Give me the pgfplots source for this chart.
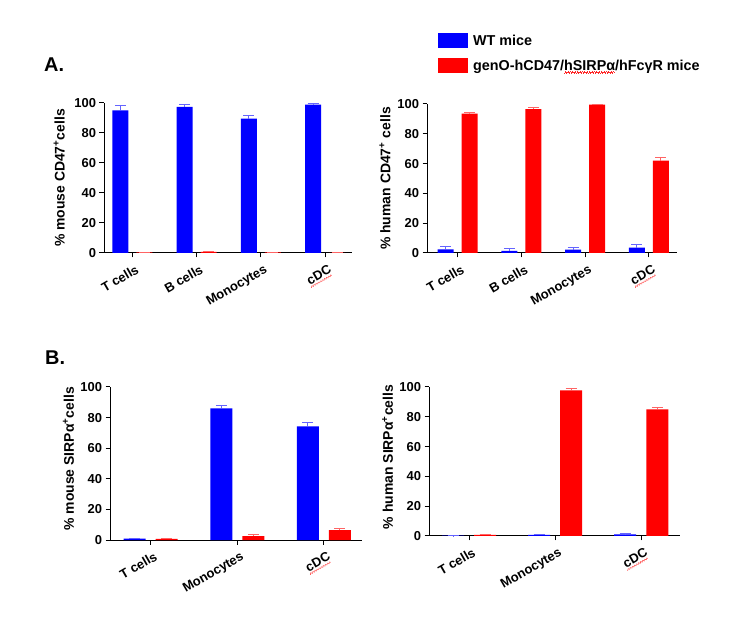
\documentclass[border=0pt]{standalone}
\usepackage{fontspec}
\setmainfont{Liberation Sans}
\usepackage{pgfplots}
\pgfplotsset{compat=1.18}
\definecolor{wtblue}{RGB}{0,0,255}
\definecolor{hred}{RGB}{255,0,0}
\definecolor{wterr}{RGB}{100,100,255}
\definecolor{herr}{RGB}{255,100,100}
\newcommand\squig[1]{\leavevmode\setbox0\hbox{#1}\rlap{\color{red!85}\hbox to \wd0{\leaders\hbox{\rule[-3.2pt]{0.6pt}{0.6pt}\rule[-2.6pt]{0.6pt}{0.6pt}\rule[-2.0pt]{0.6pt}{0.6pt}\rule[-2.6pt]{0.6pt}{0.6pt}}\hfill}}\box0}
\pgfplotsset{
 prism/.style={
  scale only axis,
  axis x line*=bottom, axis y line*=left,
  ymin=0, ymax=100, ytick={0,20,...,100},
  tick align=outside, major tick length=4.5bp,
  every tick/.style={black, line width=1bp},
  axis line style={line width=1bp},
  /pgf/number format/assume math mode=true,
  tick label style={font=\bfseries\fontsize{13}{13}\selectfont, text=black},
  x tick label style={xshift=4bp, yshift=-2bp, rotate=30, anchor=north east, font=\bfseries\fontsize{13}{13}\selectfont},
  label style={font=\bfseries\fontsize{14}{14}\selectfont},
  ylabel style={rotate=0, anchor=center},
  clip=false,
 },
 wt/.style={ybar, bar width=#1, bar shift=0pt, fill=wtblue, draw=none,
   legend image code/.code={\fill[wtblue] (0bp,-7.5bp) rectangle (30bp,7.5bp);},
   error bars/.cd, y dir=plus, y explicit,
   error bar style={line width=1bp, draw=wterr},
   error mark options={rotate=90, mark size=5.5bp, line width=1bp, draw=wterr}},
 hu/.style={ybar, bar width=#1, bar shift=0pt, fill=hred, draw=none,
   legend image code/.code={\fill[hred] (0bp,-7.5bp) rectangle (30bp,7.5bp);},
   error bars/.cd, y dir=plus, y explicit,
   error bar style={line width=1bp, draw=herr},
   error mark options={rotate=90, mark size=5.5bp, line width=1bp, draw=herr}},
}
\begin{document}
\begin{tikzpicture}
\path[use as bounding box] (0,0) rectangle (751bp,631bp);
% A left
\begin{axis}[prism, at={(104bp,378bp)}, anchor=south west, width=248bp, height=150bp,
  xmin=-0.44, xmax=3.42, xtick={0,1,2,3},
  xticklabels={T cells,B cells,Monocytes,\squig{cDC}},
  ylabel={\% mouse CD47\textsuperscript{+}cells},
  ylabel style={at={(axis description cs:-0.181,0.5)}}]
\addplot[wt=16bp] coordinates {(-0.187,95.0) +- (0,3.1) (0.813,97.4) +- (0,1.5) (1.813,89.6) +- (0,2.2) (2.813,98.9) +- (0,0.5)};
\addplot[hu=16bp] coordinates {(0.187,0.4) +- (0,0.2) (1.187,0.8) +- (0,0.2) (2.187,0.4) +- (0,0.2) (3.187,0.0) +- (0,0.0)};
\end{axis}
% A right
\begin{axis}[prism, at={(427bp,378bp)}, anchor=south west, width=250bp, height=149bp,
  xmin=-0.48, xmax=3.44, xtick={0,1,2,3},
  xticklabels={T cells,B cells,Monocytes,\squig{cDC}},
  ylabel={\% human CD47\textsuperscript{+} cells},
  ylabel style={at={(axis description cs:-0.168,0.5)}},
  legend style={at={(axis description cs:0.044,1.477)}, anchor=north west, draw=none, fill=none, inner sep=0pt,
    font=\bfseries\fontsize{14.4}{14.4}\selectfont, row sep=10bp, column sep=5bp, nodes={inner sep=0pt}},
  legend cell align=left]
\addplot[wt=16bp] coordinates {(-0.188,2.5) +- (0,2.0) (0.812,1.5) +- (0,1.4) (1.812,2.2) +- (0,1.6) (2.812,3.6) +- (0,1.8)};
\addplot[hu=16bp] coordinates {(0.188,93.6) +- (0,1.0) (1.188,96.5) +- (0,1.0) (2.188,99.5) +- (0,0.3) (3.188,62.0) +- (0,1.8)};
\legend{WT mice, genO-hCD47/\squig{hSIRPα}/hFcγR mice}
\end{axis}
% B left
\begin{axis}[prism, at={(110bp,91bp)}, anchor=south west, width=252bp, height=153bp,
  xmin=-0.47, xmax=2.44, xtick={0,1,2},
  xticklabels={T cells,Monocytes,\squig{cDC}},
  ylabel={\% mouse SIRPα\textsuperscript{+}cells},
  ylabel style={at={(axis description cs:-0.165,0.53)}}]
\addplot[wt=22bp] coordinates {(-0.185,0.9) +- (0,0.4) (0.815,86.1) +- (0,1.9) (1.815,74.2) +- (0,2.9)};
\addplot[hu=22bp] coordinates {(0.185,0.7) +- (0,0.4) (1.185,2.6) +- (0,0.9) (2.185,6.5) +- (0,0.9)};
\end{axis}
% B right
\begin{axis}[prism, at={(429bp,95bp)}, anchor=south west, width=251bp, height=149bp,
  xmin=-0.465, xmax=2.45, xtick={0,1,2},
  xticklabels={T cells,Monocytes,\squig{cDC}},
  ylabel={\% human SIRPα\textsuperscript{+}cells},
  ylabel style={at={(axis description cs:-0.165,0.53)}}]
\addplot[wt=22bp] coordinates {(-0.186,0.2) +- (0,0.1) (0.814,0.7) +- (0,0.6) (1.814,1.1) +- (0,0.5)};
\addplot[hu=22bp] coordinates {(0.186,0.7) +- (0,0.6) (1.186,97.8) +- (0,1.1) (2.186,85.0) +- (0,1.5)};
\end{axis}
\node[anchor=base west, inner sep=0pt, font=\bfseries\fontsize{20}{20}\selectfont] at (44bp,559bp) {A.};
\node[anchor=base west, inner sep=0pt, font=\bfseries\fontsize{20}{20}\selectfont] at (45bp,266bp) {B.};
\end{tikzpicture}
\end{document}
